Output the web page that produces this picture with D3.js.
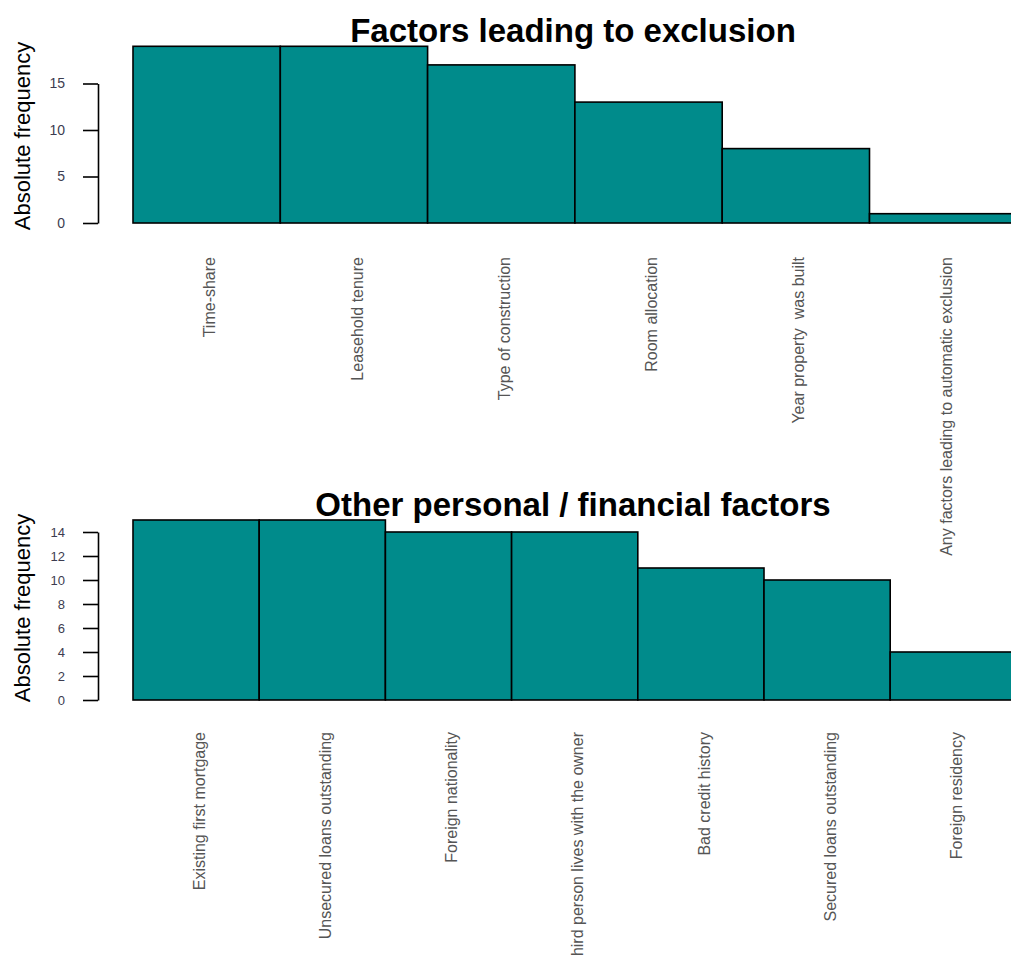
<!DOCTYPE html>
<html>
<head>
<meta charset="utf-8">
<script src="https://cdn.jsdelivr.net/npm/d3@7"></script>
<style>
  body { margin: 0; background: #fff; }
  text { font-family: "Liberation Sans", Arial, sans-serif; }
  .cat { white-space: pre; }
</style>
</head>
<body>
<div id="chart"></div>
<script>
// Data
const exclusionFactors = ["Time-share", "Leasehold tenure", "Type of construction",
  "Room allocation", "Year property  was built", "Any factors leading to automatic exclusion"];
const exclusionCounts = [19, 19, 17, 13, 8, 1];
const exclusionTicks = [0, 5, 10, 15];

const otherFactors = ["Existing first mortgage", "Unsecured loans outstanding", "Foreign nationality",
  "Third person lives with the owner", "Bad credit history", "Secured loans outstanding", "Foreign residency"];
const otherCounts = [15, 15, 14, 14, 11, 10, 4];
const otherTicks = [0, 2, 4, 6, 8, 10, 12, 14];

const width = 1011, height = 956;
const barColor = "#008b8b";

const svg = d3.select("#chart")
  .append("svg")
  .attr("width", width)
  .attr("height", height);

function panel(opts) {
  const g = svg.append("g");

  const x = d3.scaleBand()
    .domain(opts.cats)
    .range([133, 133 + opts.cats.length * opts.barW])
    .paddingInner(0)
    .paddingOuter(0);

  const maxTick = opts.ticks[opts.ticks.length - 1];
  const y = d3.scaleLinear()
    .domain([0, maxTick])
    .range([opts.base, opts.base - maxTick * opts.unit]);

  // bars
  g.selectAll("rect")
    .data(opts.vals)
    .join("rect")
      .attr("x", (d, i) => x(opts.cats[i]))
      .attr("y", d => y(d))
      .attr("width", x.bandwidth())
      .attr("height", d => y(0) - y(d))
      .attr("fill", barColor)
      .attr("stroke", "#000")
      .attr("stroke-width", 1.6);

  // y axis
  const yAxis = d3.axisLeft(y)
    .tickValues(opts.ticks)
    .tickSize(15)
    .tickSizeOuter(0)
    .tickPadding(18);

  const ax = g.append("g")
    .attr("transform", "translate(98,0)")
    .call(yAxis);
  ax.select(".domain").attr("stroke", "#000").attr("stroke-width", 1.6);
  ax.selectAll(".tick line").attr("stroke", "#000").attr("stroke-width", 1.6);
  ax.selectAll(".tick text")
    .attr("font-size", opts.tickFont)
    .attr("fill", "#3c3c50")
    .attr("font-family", "Liberation Sans, Arial, sans-serif");

  // rotated category labels
  g.selectAll(".cat")
    .data(opts.cats)
    .join("text")
      .attr("class", "cat")
      .attr("transform", d => "translate(" + (x(d) + x.bandwidth() / 2 + 3) + "," + opts.labelTop + ") rotate(-90)")
      .attr("text-anchor", "end")
      .attr("dy", "0.35em")
      .attr("font-size", 16)
      .attr("fill", "#555")
      .text(d => d);

  // y label
  g.append("text")
    .attr("transform", "translate(30," + opts.ylabY + ") rotate(-90)")
    .attr("text-anchor", "middle")
    .attr("font-size", 22)
    .attr("fill", "#000")
    .text("Absolute frequency");

  // title
  g.append("text")
    .attr("x", 573)
    .attr("y", opts.titleY)
    .attr("text-anchor", "middle")
    .attr("font-size", 33)
    .attr("font-weight", "bold")
    .attr("fill", "#000")
    .text(opts.title);
}

panel({
  title: "Factors leading to exclusion",
  cats: exclusionFactors, vals: exclusionCounts, ticks: exclusionTicks,
  barW: 147.3, base: 223, unit: 9.3,
  labelTop: 257, ylabY: 136, titleY: 42, tickFont: 14
});

panel({
  title: "Other personal / financial factors",
  cats: otherFactors, vals: otherCounts, ticks: otherTicks,
  barW: 126.2, base: 700, unit: 12,
  labelTop: 732, ylabY: 608, titleY: 516, tickFont: 13
});
</script>
</body>
</html>
